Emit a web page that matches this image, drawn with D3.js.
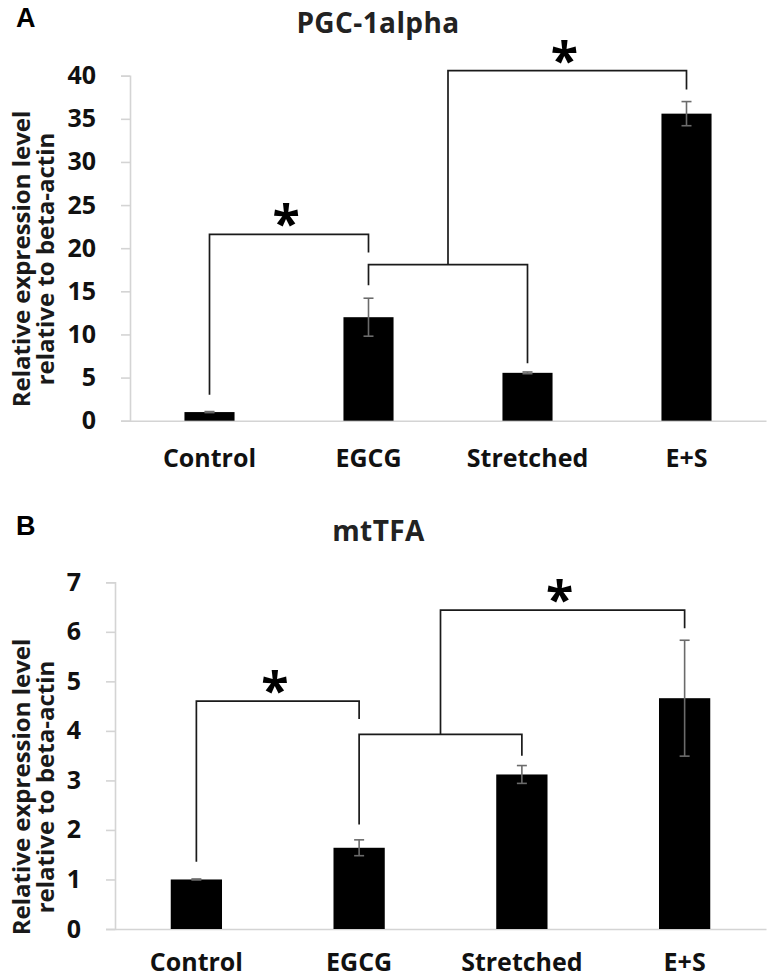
<!DOCTYPE html>
<html>
<head>
<meta charset="utf-8">
<script src="https://cdnjs.cloudflare.com/ajax/libs/d3/7.8.5/d3.min.js"></script>
<style>
  html, body { margin: 0; padding: 0; background: #fff; }
  svg { display: block; }
  text { font-family: "Open Sans", "DejaVu Sans", sans-serif; font-weight: 700; fill: #111; }
</style>
</head>
<body>
<svg id="chart" width="769" height="978"></svg>
<script>
// ---------- data ----------
const categories = ["Control", "EGCG", "Stretched", "E+S"];

const pgcTitle = "PGC-1alpha";
const pgcValues = [1.0, 12.0, 5.55, 35.6];
const pgcErrors = [0.06, 2.2, 0.1, 1.4];
const pgcTicks = [0, 5, 10, 15, 20, 25, 30, 35, 40];
// significance brackets: [from, to, top, leftEnd, rightEnd]
const pgcBrackets = [
  ["Control", "EGCG", 21.6, 3.0, 19.5],
  ["EGCG", "Stretched", 18.1, 15.7, 6.65]
];
// linking bracket: from middle of bracket #1 up to top, across to category, down to end
const pgcLink = [1, "E+S", 40.6, 38.4];

const mtTitle = "mtTFA";
const mtValues = [1.0, 1.64, 3.12, 4.66];
const mtErrors = [0.01, 0.16, 0.18, 1.17];
const mtTicks = [0, 1, 2, 3, 4, 5, 6, 7];
const mtBrackets = [
  ["Control", "EGCG", 4.60, 1.36, 4.24],
  ["EGCG", "Stretched", 3.93, 2.11, 3.5]
];
const mtLink = [1, "E+S", 6.44, 6.07];

const yTitleLines = ["Relative expression level", "relative to beta-actin"];
const panelLetters = ["A", "B"];

// ---------- drawing ----------
const svg = d3.select("#chart");

function drawPanel(cfg) {
  const g = svg.append("g");
  const x = d3.scaleBand().domain(categories)
    .range([cfg.left, cfg.right]).paddingInner(0.685).paddingOuter(0.3425);
  const y = d3.scaleLinear().domain([cfg.ticks[0], cfg.ticks[cfg.ticks.length - 1]])
    .range([cfg.bottom, cfg.top]);
  const cx = c => x(c) + x.bandwidth() / 2;

  // letter + title
  g.append("text").attr("x", 16).attr("y", cfg.letterY)
    .style("font-family", "'Liberation Sans', Arial, sans-serif")
    .style("font-size", "27px").style("fill", "#000").text(cfg.letter);
  g.append("text").attr("x", cfg.titleX).attr("y", cfg.titleY)
    .attr("text-anchor", "middle").style("font-size", "28px")
    .style("letter-spacing", "0.4px").style("fill", "#222").text(cfg.title);

  // y axis
  const yAxis = d3.axisLeft(y).tickValues(cfg.ticks).tickSize(9).tickPadding(25)
    .tickFormat(d3.format("d"));
  const ya = g.append("g").attr("transform", `translate(${cfg.left},0)`).call(yAxis);
  ya.select(".domain").attr("stroke", "#d4d4d4").attr("stroke-width", 1.6);
  ya.selectAll(".tick line").attr("stroke", "#d4d4d4").attr("stroke-width", 1.6);
  ya.selectAll(".tick text").style("font-size", "25px")
    .style("font-family", "'Open Sans', sans-serif").style("font-weight", 700).attr("fill", "#1a1a1a");

  // x axis
  const xAxis = d3.axisBottom(x).tickSize(0).tickPadding(cfg.xLabelPad);
  const xa = g.append("g").attr("transform", `translate(0,${cfg.bottom})`).call(xAxis);
  xa.select(".domain").attr("stroke", "#d4d4d4").attr("stroke-width", 1.6);
  xa.selectAll(".tick text").style("font-size", "25px")
    .style("font-family", "'Open Sans', sans-serif").style("font-weight", 700).attr("fill", "#1a1a1a");

  // bars
  g.selectAll("rect.bar").data(categories).join("rect").attr("class", "bar")
    .attr("x", d => x(d)).attr("width", x.bandwidth())
    .attr("y", (d, i) => y(cfg.values[i]))
    .attr("height", (d, i) => y(0) - y(cfg.values[i]))
    .attr("fill", "#000");

  // error bars
  const eb = g.selectAll("g.err").data(categories).join("g").attr("class", "err")
    .attr("stroke", "#6b6b6b").attr("stroke-width", 1.6);
  eb.append("line").attr("x1", d => cx(d)).attr("x2", d => cx(d))
    .attr("y1", (d, i) => y(cfg.values[i] - cfg.errors[i]))
    .attr("y2", (d, i) => y(cfg.values[i] + cfg.errors[i]));
  eb.append("line").attr("x1", d => cx(d) - 5).attr("x2", d => cx(d) + 5)
    .attr("y1", (d, i) => y(cfg.values[i] + cfg.errors[i]))
    .attr("y2", (d, i) => y(cfg.values[i] + cfg.errors[i]));
  eb.append("line").attr("x1", d => cx(d) - 5).attr("x2", d => cx(d) + 5)
    .attr("y1", (d, i) => y(cfg.values[i] - cfg.errors[i]))
    .attr("y2", (d, i) => y(cfg.values[i] - cfg.errors[i]));

  // brackets
  const line = d3.line();
  const stars = [];
  cfg.brackets.forEach(b => {
    const [a, c, top, le, re] = b;
    g.append("path").attr("d", line([[cx(a), y(le)], [cx(a), y(top)], [cx(c), y(top)], [cx(c), y(re)]]))
      .attr("fill", "none").attr("stroke", "#1a1a1a").attr("stroke-width", 1.7);
  });
  const first = cfg.brackets[0];
  stars.push([(cx(first[0]) + cx(first[1])) / 2 - 3, y(first[2])]);
  const [bi, target, ltop, lend] = cfg.link;
  const src = cfg.brackets[bi];
  const mx = (cx(src[0]) + cx(src[1])) / 2;
  g.append("path").attr("d", line([[mx, y(src[2])], [mx, y(ltop)], [cx(target), y(ltop)], [cx(target), y(lend)]]))
    .attr("fill", "none").attr("stroke", "#1a1a1a").attr("stroke-width", 1.7);
  stars.push([(mx + cx(target)) / 2 - 3, y(ltop)]);

  g.selectAll("text.star").data(stars).join("text").attr("class", "star")
    .attr("x", d => d[0]).attr("y", d => d[1] + 7)
    .attr("text-anchor", "middle").style("font-size", "50px").style("fill", "#000").text("*");

  // y title
  yTitleLines.forEach((t, i) => {
    g.append("text")
      .attr("transform", `translate(${30 + i * 24},${cfg.yTitleY}) rotate(-90)`)
      .attr("text-anchor", "middle").style("font-size", "24px").style("fill", "#1a1a1a").text(t);
  });
}

drawPanel({
  letter: panelLetters[0], letterY: 27, title: pgcTitle, titleX: 378, titleY: 33,
  left: 130, right: 766, top: 75.7, bottom: 420.7, xLabelPad: 29,
  values: pgcValues, errors: pgcErrors, ticks: pgcTicks,
  brackets: pgcBrackets, link: pgcLink, yTitleY: 259
});
drawPanel({
  letter: panelLetters[1], letterY: 535, title: mtTitle, titleX: 378.5, titleY: 541,
  left: 115, right: 766, top: 582.3, bottom: 929, xLabelPad: 24,
  values: mtValues, errors: mtErrors, ticks: mtTicks,
  brackets: mtBrackets, link: mtLink, yTitleY: 787
});
</script>
</body>
</html>
